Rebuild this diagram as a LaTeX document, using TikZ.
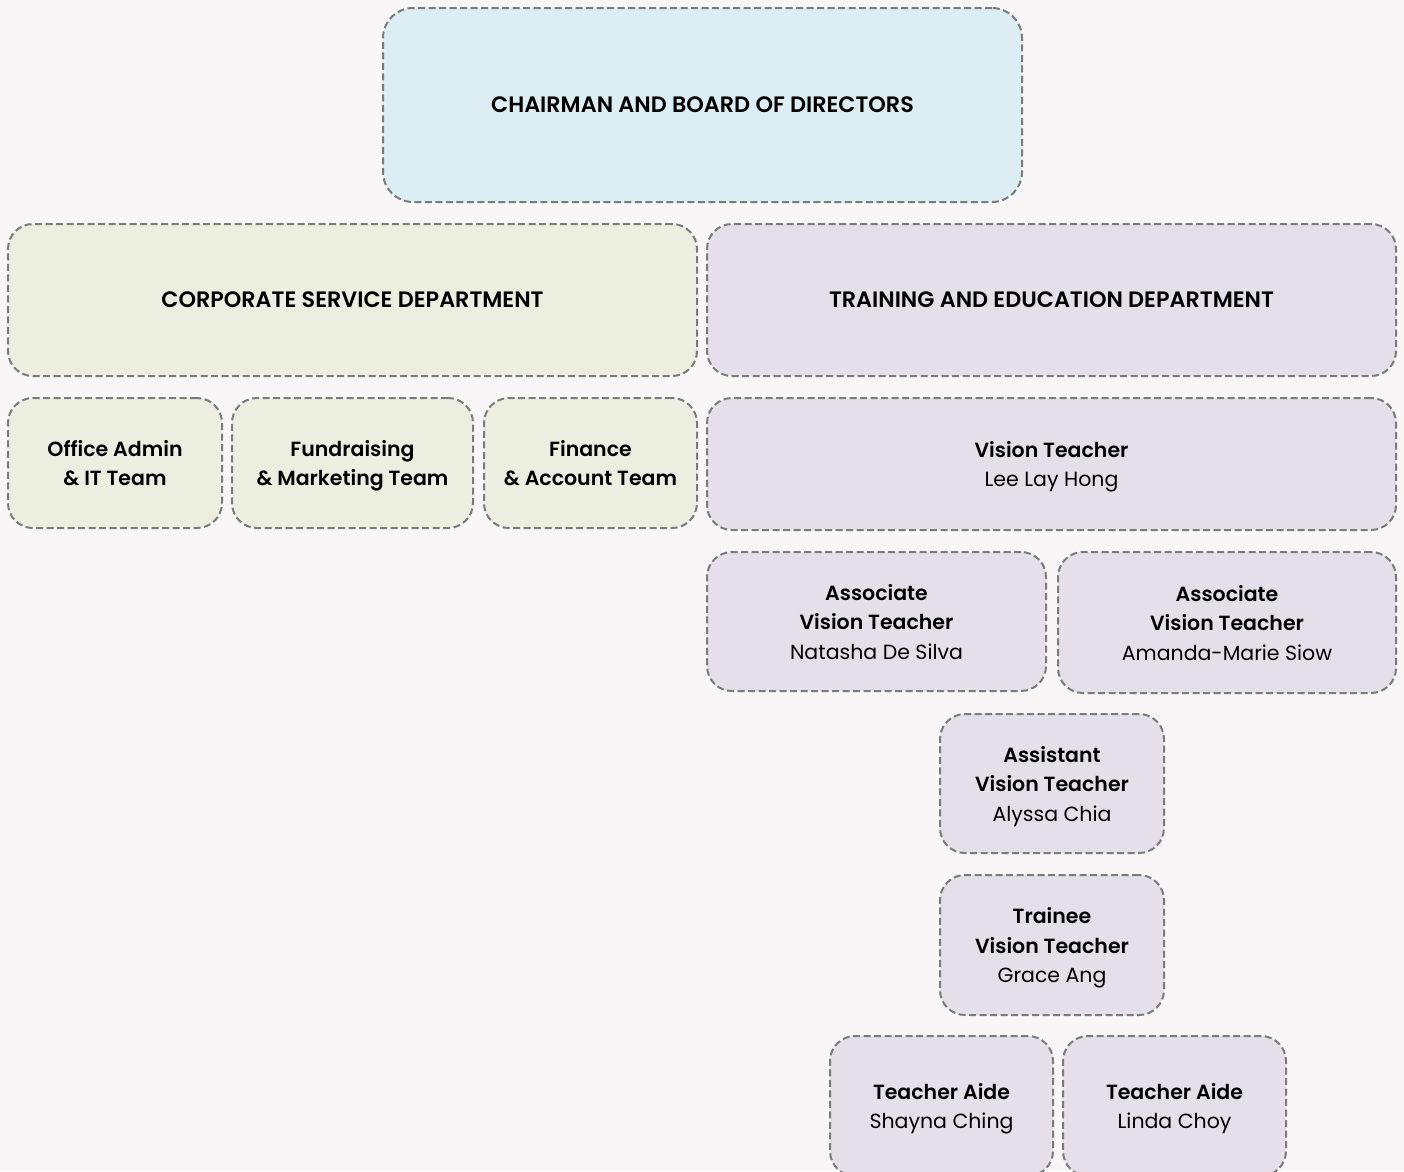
\documentclass[tikz,border=0pt]{standalone}
\usepackage{fontspec}
\setmainfont{Poppins}[BoldFont={Poppins SemiBold}]
\usepackage{xcolor}
\definecolor{pagebg}{HTML}{F9F6F7}
\definecolor{boardfill}{HTML}{DCEEF3}
\definecolor{corpfill}{HTML}{ECEFDF}
\definecolor{trainfill}{HTML}{E5DFEA}
\definecolor{edgegray}{HTML}{7B7B7B}

\begin{document}
\begin{tikzpicture}[x=1pt, y=-1pt, font=\fontsize{20.5}{29.5}\selectfont,
    unit/.style = {draw=edgegray, line width=2pt, dash pattern=on 7pt off 3.5pt,
                   rounded corners=25pt, inner sep=0pt, align=center,
                   minimum width=#1, text depth=-3pt},
    head/.style = {font=\fontsize{22.3}{29.5}\selectfont\bfseries},
    board/.style = {unit=#1, fill=boardfill},
    corp/.style = {unit=#1, fill=corpfill},
    train/.style = {unit=#1, fill=trainfill}]
    \fill[pagebg] (0,0) rectangle (1404,1171);
    \useasboundingbox (0,0) rectangle (1404,1171);

    \node[board=639pt, head, minimum height=194pt, rounded corners=30pt] (1) at (702.5,105) {CHAIRMAN AND BOARD OF DIRECTORS};
    \node[corp=689pt, head, minimum height=152pt] (2) at (352.5,300) {CORPORATE SERVICE DEPARTMENT};
    \node[train=689pt, head, minimum height=152pt] (3) at (1051.5,300) {TRAINING AND EDUCATION DEPARTMENT};

    \node[corp=214pt, minimum height=130pt] (4) at (115,463) {\textbf{Office Admin}\\\textbf{\& IT Team}};
    \node[corp=241pt, minimum height=130pt] (5) at (352.5,463) {\textbf{Fundraising}\\\textbf{\& Marketing Team}};
    \node[corp=213pt, minimum height=130pt] (6) at (590.5,463) {\textbf{Finance}\\\textbf{\& Account Team}};
    \node[train=689pt, minimum height=132pt] (7) at (1051.5,464) {\textbf{Vision Teacher}\\Lee Lay Hong};

    \node[train=339pt, minimum height=139pt] (8) at (876.5,621.5) {\textbf{Associate}\\\textbf{Vision Teacher}\\Natasha De Silva};
    \node[train=338pt, minimum height=141pt] (9) at (1227,622.5) {\textbf{Associate}\\\textbf{Vision Teacher}\\Amanda-Marie Siow};
    \node[train=224pt, minimum height=139pt] (10) at (1052,783.5) {\textbf{Assistant}\\\textbf{Vision Teacher}\\Alyssa Chia};
    \node[train=224pt, minimum height=140pt] (11) at (1052,945) {\textbf{Trainee}\\\textbf{Vision Teacher}\\Grace Ang};
    \node[train=223pt, minimum height=140pt] (12) at (941.5,1106) {\textbf{Teacher Aide}\\Shayna Ching};
    \node[train=223pt, minimum height=140pt] (13) at (1174.5,1106) {\textbf{Teacher Aide}\\Linda Choy};
\end{tikzpicture}
\end{document}
